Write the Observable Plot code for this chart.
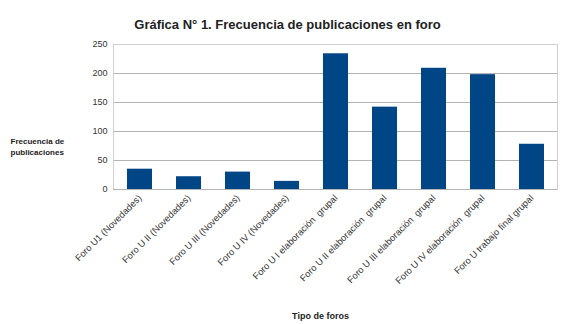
<!DOCTYPE html>
<html>
<head>
<meta charset="utf-8">
<script src="https://cdn.jsdelivr.net/npm/d3@7"></script>
<script src="https://cdn.jsdelivr.net/npm/@observablehq/plot@0.6"></script>
<style>
  html, body { margin: 0; padding: 0; background: #fff; }
  #chart svg { display: block; }
</style>
</head>
<body>
<div id="chart"></div>
<script>
// Publicaciones por foro
const foros = [
  "Foro U1 (Novedades)",
  "Foro U II (Novedades)",
  "Foro U III (Novedades)",
  "Foro U IV (Novedades)",
  "Foro U I elaboración  grupal",
  "Foro U II elaboración  grupal",
  "Foro U III elaboración  grupal",
  "Foro U IV elaboración  grupal",
  "Foro U trabajo final grupal"
];
const publicaciones = [35, 22, 30, 14, 234, 142, 209, 198, 78];
const yTicks = [0, 50, 100, 150, 200, 250];

const titulo = "Gráfica N° 1. Frecuencia de publicaciones en foro";
const tituloY = "Frecuencia de\npublicaciones";
const tituloX = "Tipo de foros";

const data = foros.map((f, i) => ({foro: f, n: publicaciones[i]}));

const chart = Plot.plot({
  width: 569,
  height: 324,
  marginTop: 44,
  marginBottom: 135,
  marginLeft: 113,
  marginRight: 12,
  style: {fontFamily: "'Liberation Sans', Arial, sans-serif", background: "#fff", overflow: "visible"},
  x: {type: "band", domain: foros, paddingInner: 0.5, paddingOuter: 0.25, label: null},
  y: {domain: [0, 250], label: null},
  marks: [
    Plot.gridY(yTicks, {stroke: "#b3b3b3", strokeOpacity: 1, strokeWidth: 1}),
    Plot.frame({stroke: "#d0d0d0"}),
    Plot.barY(data, {x: "foro", y: "n", fill: "#004586"}),
    Plot.ruleX([0], {frameAnchor: "left", stroke: "#b3b3b3"}),
    Plot.ruleY([0], {stroke: "#b3b3b3"}),
    Plot.axisY(yTicks, {tickSize: 0, tickPadding: 6, fontSize: 9, fill: "#333"}),
    Plot.axisX({tickSize: 0, tickRotate: -45, tickPadding: 7, fontSize: 9.3, fill: "#333", label: null}),
    Plot.text([titulo], {frameAnchor: "top", dx: -48, dy: -25, fontSize: 13, fontWeight: "bold", fill: "#222"}),
    Plot.text([tituloY], {frameAnchor: "left", dx: -103, dy: 29, fontSize: 8, fontWeight: "bold", fill: "#222", lineHeight: 1.4}),
    Plot.text([tituloX], {frameAnchor: "bottom", dx: -15, dy: 129, fontSize: 9, fontWeight: "bold", fill: "#222"})
  ]
});
document.getElementById("chart").appendChild(chart);
</script>
</body>
</html>
